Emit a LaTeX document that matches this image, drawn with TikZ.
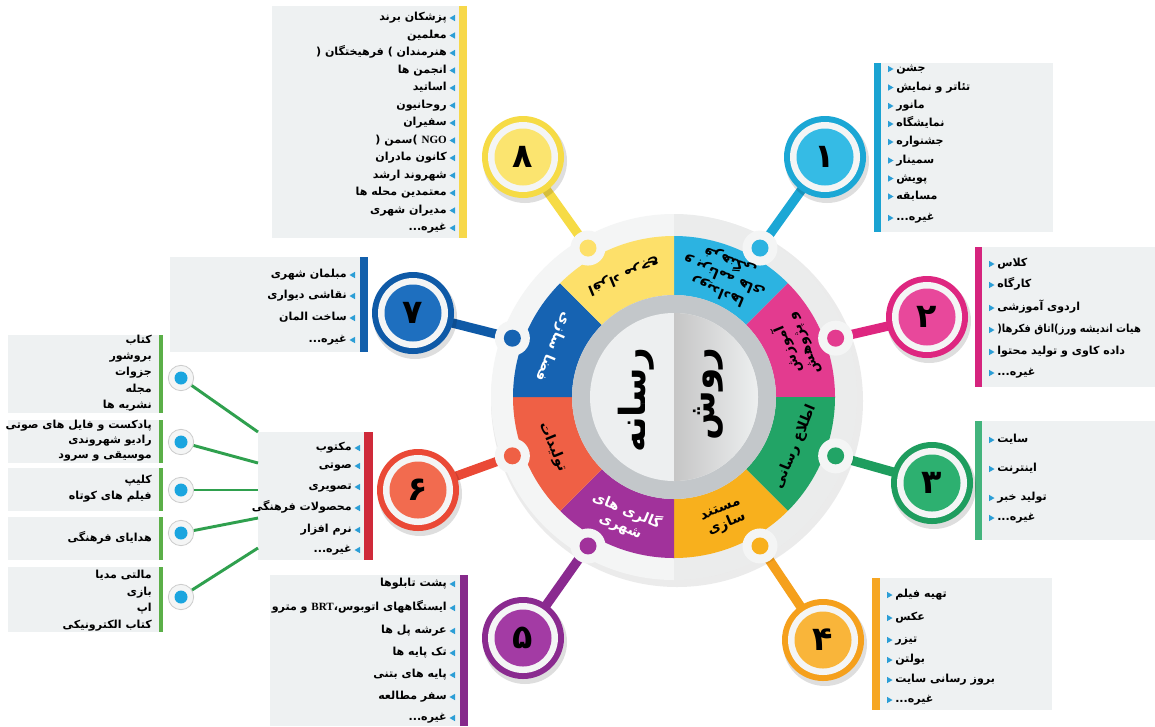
\documentclass[tikz,border=0pt]{standalone}
\usepackage{fontspec}
\TeXXeTstate=1
\newfontfamily\fa[Script=Arabic]{DejaVu Sans}
\newfontfamily\lat{Liberation Serif}
\newcommand\R[1]{\beginR #1\endR}
\newcommand\ghr{غیره...}
\definecolor{bgc}{HTML}{EEF1F2}
\definecolor{bul}{HTML}{2B9ED6}
\definecolor{ringw}{HTML}{F4F5F5}
\definecolor{gring}{HTML}{C3C7CA}
\definecolor{cdisk}{HTML}{EDEFF0}
\definecolor{gl}{HTML}{2FA04E}
\definecolor{glbar}{HTML}{5BAF48}
\definecolor{ldotc}{HTML}{1AA5DF}
\definecolor{rA}{HTML}{1BA7D5}\definecolor{iA}{HTML}{35BBE5}\definecolor{sA}{HTML}{2CB3E1}\definecolor{bA}{HTML}{1AA3D2}
\definecolor{rB}{HTML}{DE2680}\definecolor{iB}{HTML}{E8489B}\definecolor{sB}{HTML}{E33B8F}\definecolor{bB}{HTML}{D5247E}
\definecolor{rC}{HTML}{1E9D5E}\definecolor{iC}{HTML}{2DB070}\definecolor{sC}{HTML}{22A466}\definecolor{bC}{HTML}{43B47D}
\definecolor{rD}{HTML}{F5A01C}\definecolor{iD}{HTML}{F9B53A}\definecolor{sD}{HTML}{F8B01D}\definecolor{bD}{HTML}{F6A623}
\definecolor{rE}{HTML}{8A2A8F}\definecolor{iE}{HTML}{A33BA4}\definecolor{sE}{HTML}{A1329B}\definecolor{bE}{HTML}{862A8B}
\definecolor{rF}{HTML}{EA4936}\definecolor{iF}{HTML}{F26B4F}\definecolor{sF}{HTML}{EF6045}\definecolor{bF}{HTML}{CF2A3A}
\definecolor{rG}{HTML}{0F5AA7}\definecolor{iG}{HTML}{1E6FBF}\definecolor{sG}{HTML}{1663B2}\definecolor{bG}{HTML}{1360AC}
\definecolor{rH}{HTML}{F6DB45}\definecolor{iH}{HTML}{FBE46F}\definecolor{sH}{HTML}{FDE06A}\definecolor{bH}{HTML}{F7D84A}
\tikzset{
  itm/.style={font=\fa\bfseries\fontsize{8.3}{10}\selectfont, inner sep=0pt, text=black, text height=6pt, text depth=2.2pt},
  seglbl/.style={font=\fa\bfseries\fontsize{10.5}{12.5}\selectfont, align=center, inner sep=0pt},
  numtxt/.style={font=\fa\bfseries\fontsize{25}{25}\selectfont, inner sep=0pt},
  numc/.style={circle, inner sep=0pt, minimum size=61.5pt},
  ctr/.style={font=\fa\bfseries\fontsize{27}{27}\selectfont, inner sep=0pt, rotate=90},
  stem/.style={line width=7pt},
  gline/.style={draw=gl, line width=2.2pt},
  ldot/.style={circle, inner sep=0pt, minimum size=19pt, fill=ringw, draw=gray!40, line width=0.6pt}
}
\newcommand\bulL[2]{\fill[bul] ({#1+3},{#2-3.2}) -- ({#1+3},{#2+3.2}) -- ({#1-2.5},#2) -- cycle;}
\newcommand\bulR[2]{\fill[bul] ({#1-3},{#2-3.2}) -- ({#1-3},{#2+3.2}) -- ({#1+2.5},#2) -- cycle;}
\newcommand\numcirc[6]{%
  \fill[black,opacity=0.13] ({#2+2},{#3+4}) circle (42);
  \node[numc, fill=#4] (#1) at (#2,#3) {};
  \fill[ringw] (#2,#3) circle (35);
  \fill[#5] (#2,#3) circle (28.5);
  \node[numtxt] (#1t) at (#2,#3) {#6};}
\begin{document}
\begin{tikzpicture}[x=0.75pt,y=-0.75pt]
\useasboundingbox (0,0) rectangle (1155,726);
\fill[white] (0,0) rectangle (1155,726);

% ---------- box 8 ----------
\fill[bgc] (272,6) rectangle (466,238);
\fill[bH] (459,6) rectangle (467,238);
\foreach \y/\t [count=\i] in {18/{\R{پزشکان برند}}, 35.5/معلمین, 53/{\R{هنرمندان \hbox{)} فرهیختگان \hbox{(}}}, 70.5/{\R{انجمن ها}}, 88/اساتید, 105.5/روحانیون, 123/سفیران, 140.5/{\R{\beginL{\lat\bfseries NGO}\endL{} \hbox{)}سمن \hbox{(}}}, 158/{\R{کانون مادران}}, 175.5/{\R{شهروند ارشد}}, 193/{\R{معتمدین محله ها}}, 210.5/{\R{مدیران شهری}}, 228/{\ghr}}
{ \bulL{452}{\y} \node[itm, anchor=east] (bh\i) at (447,\y) {\t}; }

% ---------- box 1 ----------
\fill[bgc] (874,63) rectangle (1053,232);
\fill[bA] (874,63) rectangle (881,232);
\foreach \y/\t [count=\i] in {69/جشن, 87.5/{\R{تئاتر و نمایش}}, 106/مانور, 124/نمایشگاه, 142/جشنواره, 160.5/سمینار, 178.5/پویش, 196.5/مسابقه, 218/{\ghr}}
{ \bulR{891}{\y} \node[itm, anchor=west] (ba\i) at (896,\y) {\t}; }

% ---------- box 2 ----------
\fill[bgc] (975,247) rectangle (1155,387);
\fill[bB] (975,247) rectangle (982,387);
\foreach \y/\t [count=\i] in {264/کلاس, 285/کارگاه, 308/{\R{اردوی آموزشی}}, 330/{\scalebox{0.9}[1]{\R{هیات اندیشه ورز\hbox{)}اتاق فکرها\hbox{(}}}}, 352/{\R{داده کاوی و تولید محتوا}}, 373/{\ghr}}
{ \bulR{992}{\y} \node[itm, anchor=west] (bb\i) at (997,\y) {\t}; }

% ---------- box 3 ----------
\fill[bgc] (975,421) rectangle (1155,540);
\fill[bC] (975,421) rectangle (982,540);
\foreach \y/\t [count=\i] in {440/سایت, 469/اینترنت, 498/{\R{تولید خبر}}, 518/{\ghr}}
{ \bulR{992}{\y} \node[itm, anchor=west] (bc\i) at (997,\y) {\t}; }

% ---------- box 4 ----------
\fill[bgc] (872,578) rectangle (1052,710);
\fill[bD] (872,578) rectangle (880,710);
\foreach \y/\t [count=\i] in {595/{\R{تهیه فیلم}}, 618/عکس, 640/تیزر, 660/بولتن, 680/{\R{بروز رسانی سایت}}, 700/{\ghr}}
{ \bulR{890}{\y} \node[itm, anchor=west] (bd\i) at (895,\y) {\t}; }

% ---------- box 5 ----------
\fill[bgc] (270,575) rectangle (468,726);
\fill[bE] (460,575) rectangle (468,726);
\foreach \y/\t [count=\i] in {584/{\R{پشت تابلوها}}, 608/{\R{ایستگاههای اتوبوس\hbox{،}\beginL{\lat\bfseries BRT}\endL{} و مترو}}, 631/{\R{عرشه پل ها}}, 653/{\R{تک پایه ها}}, 675/{\R{پایه های بتنی}}, 697/{\R{سفر مطالعه}}, 718/{\ghr}}
{ \bulL{452}{\y} \node[itm, anchor=east] (be\i) at (447,\y) {\t}; }

% ---------- box 7 ----------
\fill[bgc] (170,257) rectangle (368,352);
\fill[bG] (360,257) rectangle (368,352);
\foreach \y/\t [count=\i] in {275/{\R{مبلمان شهری}}, 296/{\R{نقاشی دیواری}}, 318/{\R{ساخت المان}}, 340/{\ghr}}
{ \bulL{352}{\y} \node[itm, anchor=east] (bg\i) at (347,\y) {\t}; }

% ---------- box 6 ----------
\fill[bgc] (258,432) rectangle (372,560);
\fill[bF] (364,432) rectangle (373,560);
\foreach \y/\t [count=\i] in {448/مکتوب, 466/صوتی, 487/تصویری, 508/{\R{محصولات فرهنگی}}, 530/{\R{نرم افزار}}, 550/{\ghr}}
{ \bulL{357}{\y} \node[itm, anchor=east] (bf\i) at (352,\y) {\t}; }

% ---------- left green boxes ----------
\foreach \ya/\yb in {335/413, 420/463, 468/511, 517/560, 567/632}
{ \fill[bgc] (8,\ya) rectangle (163,\yb); \fill[glbar] (159,\ya) rectangle (163,\yb); }
\foreach \y/\t [count=\i] in {341/کتاب, 357/بروشور, 373/جزوات, 390/مجله, 406/{\R{نشریه ها}},
  426/{\R{پادکست و فایل های صوتی}}, 441/{\R{رادیو شهروندی}}, 456/{\R{موسیقی و سرود}},
  481/کلیپ, 497/{\R{فیلم های کوتاه}}, 539/{\R{هدایای فرهنگی}},
  576/{\R{مالتی مدیا}}, 593/بازی, 609/اپ, 626/{\R{کتاب الکترونیکی}}}
{ \node[itm, anchor=east] (lt\i) at (152,\y) {\t}; }

\foreach \y/\e [count=\i] in {378/432, 442/463, 490/490, 533/518, 597/548}
{ \coordinate (e\i) at (258,\e);
  \node[ldot] (ld\i) at (181,\y) {};
  \fill[ldotc] (ld\i.center) circle (6.5);
  \draw[gline] (ld\i) -- (e\i); }

% ---------- stems ----------
\begin{scope}[shift={(674,397)}, yscale=-1]
  \foreach \a [count=\i] in {60,20,-20,-60,-120,-160,160,120}
    \coordinate (d\i) at (\a:172);
\end{scope}
\foreach \x/\y [count=\i] in {825/157, 927/317, 932/483, 823/640, 523/638, 418/490, 413/313, 523/157}
  \coordinate (p\i) at (\x,\y);
\foreach \i/\c in {1/rA,2/rB,3/rC,4/rD,5/rE,6/rF,7/rG,8/rH}
  \draw[stem, \c] (d\i) -- (p\i);

% ---------- wheel ----------
\fill[black, opacity=0.08] (677,401) circle (186);
\begin{scope}[shift={(674,397)}, yscale=-1]
  \fill[ringw] (0,0) circle (183);
  \fill[black, opacity=0.035] (0,-183) arc[start angle=-90, end angle=90, radius=183] -- cycle;
  \foreach \a/\c in {45/sA, 0/sB, -45/sC, -90/sD, -135/sE, 180/sF, 135/sG, 90/sH}
    \fill[\c] (\a:102) -- (\a:161) arc[start angle=\a, end angle={\a+45}, radius=161] -- ({\a+45}:102) arc[start angle={\a+45}, end angle=\a, radius=102] -- cycle;
  \fill[gring] (0,0) circle (102);
  \fill[cdisk] (0,0) circle (84);
  \shade[left color=gray!45, right color=cdisk] (0,-84) arc[start angle=-90, end angle=90, radius=84] -- cycle;
  \foreach \a/\c in {60/sA, 20/sB, -20/sC, -60/sD, -120/sE, -160/sF, 160/sG, 120/sH}
  { \fill[ringw] (\a:172) circle (17.5); \fill[\c] (\a:172) circle (8.5); }
  \node[seglbl, rotate=157.5] (s1) at (67.5:131) {رویدادها\\\R{و برنامه های}\\فرهنگی};
  \node[seglbl, rotate=112.5] (s2) at (22.5:131) {آموزش\\\R{و پژوهش}};
  \node[seglbl, rotate=67.5] (s3) at (-22.5:131) {\R{اطلاع رسانی}};
  \node[seglbl, rotate=22.5] (s4) at (-67.5:131) {مستند\\سازی};
  \node[seglbl, rotate=-22.5, text=white] (s5) at (-112.5:131) {\R{گالری های}\\شهری};
  \node[seglbl, rotate=-67.5] (s6) at (-157.5:131) {تولیدات};
  \node[seglbl, rotate=-112.5, text=white] (s7) at (157.5:131) {\R{فضا سازی}};
  \node[seglbl, rotate=-157.5] (s8) at (112.5:131) {\R{افراد مرجع}};
\end{scope}
\node[ctr] (c1) at (636,400) {رسانه};
\node[ctr] (c2) at (708,394) {روش};

% ---------- number circles ----------
\numcirc{n1}{825}{157}{rA}{iA}{۱}
\numcirc{n2}{927}{317}{rB}{iB}{۲}
\numcirc{n3}{932}{483}{rC}{iC}{۳}
\numcirc{n4}{823}{640}{rD}{iD}{۴}
\numcirc{n5}{523}{638}{rE}{iE}{۵}
\numcirc{n6}{418}{490}{rF}{iF}{۶}
\numcirc{n7}{413}{313}{rG}{iG}{۷}
\numcirc{n8}{523}{157}{rH}{iH}{۸}
\end{tikzpicture}
\end{document}
